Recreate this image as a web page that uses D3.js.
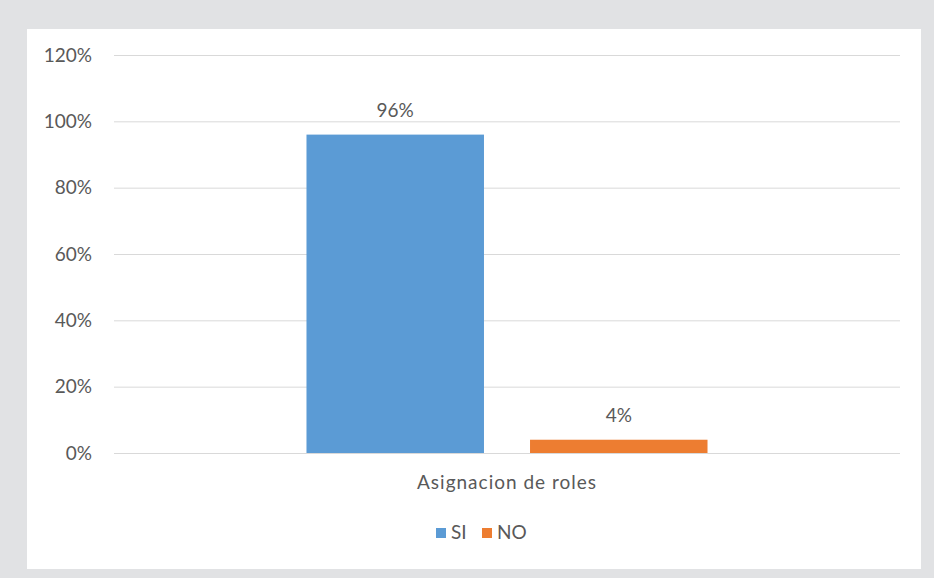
<!DOCTYPE html>
<html><head><meta charset="utf-8">
<script src="https://cdn.jsdelivr.net/npm/d3@7"></script>
<style>
html,body{margin:0;padding:0;background:#e1e2e4;}
svg{display:block;}
text{font-family:Lato,"Open Sans",sans-serif;fill:#595959;}
</style></head>
<body>
<svg id="chart" width="934" height="578"></svg>
<script>
const categories = ["Asignacion de roles"];
const seriesNames = ["SI", "NO"];
const seriesValues = [[0.96], [0.04]];
const valueLabels = [["96%"], ["4%"]];
const yTicks = [0, 0.2, 0.4, 0.6, 0.8, 1.0, 1.2];
const colors = ["#5B9BD5", "#ED7D31"];

(function(){
const svg = d3.select("#chart");
svg.append("rect").attr("x",27).attr("y",29).attr("width",894).attr("height",540).attr("fill","#ffffff");

const pLeft = 114, pRight = 900, pTop = 55, pBottom = 453;
const fs = 19;
const y = d3.scaleLinear().domain([0,1.2]).range([pBottom, pTop]);
const x0 = d3.scaleBand().domain(categories).range([pLeft, pRight]).paddingInner(0).paddingOuter(0.48);
const x1 = d3.scaleBand().domain(seriesNames).range([0, x0.bandwidth()]).paddingInner(0.206).paddingOuter(0);

// gridlines
const yAxis = d3.axisLeft(y).tickValues(yTicks).tickSize(-(pRight-pLeft)).tickFormat(d3.format(".0%")).tickPadding(22);
const ga = svg.append("g").attr("transform",`translate(${pLeft},0)`).call(yAxis);
ga.select(".domain").remove();
ga.selectAll(".tick line").attr("stroke","#d9d9d9").attr("stroke-width",1);
ga.selectAll(".tick text").attr("font-size",fs).style("font-family","Lato").style("fill","#595959");

// bars
categories.forEach((c, ci) => {
  seriesNames.forEach((s, si) => {
    const v = seriesValues[si][ci];
    const bx = x0(c) + x1(s);
    svg.append("rect").attr("x", bx).attr("y", y(v)).attr("width", x1.bandwidth()).attr("height", y(0)-y(v)).attr("fill", colors[si]);
    svg.append("text").attr("x", bx + x1.bandwidth()/2).attr("y", y(v)-18).attr("text-anchor","middle").attr("font-size",fs).text(valueLabels[si][ci]);
  });
  svg.append("text").attr("x", x0(c)+x0.bandwidth()/2).attr("y", 489).attr("text-anchor","middle").attr("font-size",fs).attr("letter-spacing",1).text(c);
});

// legend
const legend = svg.append("g");
const lx = [436, 482];
seriesNames.forEach((s, si) => {
  legend.append("rect").attr("x", lx[si]).attr("y", 528).attr("width", 10).attr("height", 10).attr("fill", colors[si]);
  legend.append("text").attr("x", lx[si]+15).attr("y", 539).attr("font-size",fs).text(s);
});
})();
</script>
</body></html>
